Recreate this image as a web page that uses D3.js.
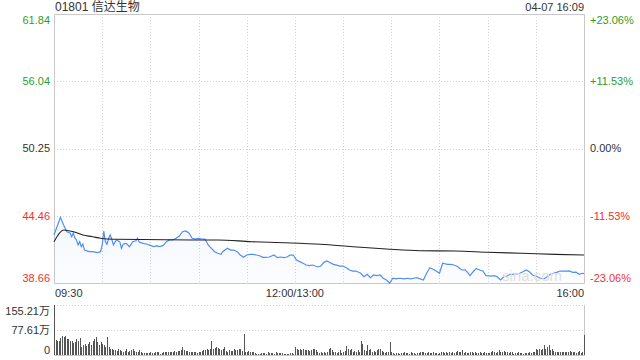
<!DOCTYPE html>
<html>
<head>
<meta charset="utf-8">
<script src="https://cdn.jsdelivr.net/npm/d3@7"></script>
<style>
  body { margin: 0; background: #fff; }
  svg { display: block; font-family: "Liberation Sans", Arial, "Noto Sans CJK SC", sans-serif; }
</style>
</head>
<body>
<div id="chart"></div>
<script>
// 标题
const stockName = "01801 信达生物";
const stamp = "04-07 16:09";
const preClose = 50.25;

// 左右刻度
const priceTicks = [61.84, 56.04, 50.25, 44.46, 38.66];
const pctTicks = ["+23.06%", "+11.53%", "0.00%", "-11.53%", "-23.06%"];
const timeTicks = [0, 150, 330];
const timeLabels = ["09:30", "12:00/13:00", "16:00"];
const volTicks = [155.21, 77.61, 0];
const volTickLabels = ["155.21万", "77.61万", "0"];

// 分时价格 (分钟序号, 0 = 09:30, 150 = 12:00/13:00, 330 = 16:00)
const priceMin = [0,4,6,8,10,11,12,13,14,15,16,17,18,19,20,22,24,27,29,30,31,32,33,34,35,36,37,38,39,41,42,43,45,47,49,51,52,53,55,58,60,62,64,66,68,70,72,74,76,78,80,82,84,86,88,90,92,94,95,96,98,100,102,104,105,108,110,112,114,116,118,120,122,124,126,128,130,132,134,137,139,141,143,145,147,149,151,153,155,157,159,161,164,166,168,170,172,174,176,178,180,182,184,186,188,191,193,195,197,199,201,203,205,207,209,211,213,215,218,220,222,224,226,228,230,232,234,236,238,240,242,245,247,249,251,254,256,258,259,261,263,265,267,269,272,274,276,278,280,282,284,286,288,290,292,294,296,298,301,303,305,307,309,311,313,315,317,319,321,323,325,327,329,330];
const price = [42.80,44.32,43.66,43.08,42.97,42.65,42.97,42.54,42.37,41.94,42.22,41.79,42.00,41.50,41.45,41.36,41.36,41.27,41.36,41.94,43.14,42.22,42.00,42.50,42.80,42.40,41.94,42.20,42.37,42.20,41.65,42.00,42.08,41.79,42.22,42.30,42.51,42.20,42.10,42.00,41.90,41.79,41.85,41.79,41.90,42.22,42.37,42.37,42.51,42.70,43.08,43.14,42.97,42.51,42.45,42.51,42.45,42.45,42.22,41.94,41.65,41.36,41.22,41.13,41.36,41.65,41.50,41.50,41.36,41.07,40.87,41.07,41.13,41.13,41.07,41.01,40.87,40.87,40.90,41.07,40.84,40.90,40.84,40.90,41.07,41.07,40.64,40.50,40.36,40.21,40.15,40.21,40.06,40.10,40.44,40.56,40.40,40.27,40.20,40.12,40.12,39.98,39.78,39.69,39.69,39.50,39.20,39.41,39.12,39.35,39.30,39.35,39.07,38.92,38.66,39.07,39.01,39.07,39.01,39.07,39.01,39.07,39.12,39.01,38.92,39.50,39.98,39.85,39.69,39.50,40.36,40.27,40.27,40.21,40.10,39.78,39.80,39.50,39.29,39.63,39.92,39.78,39.70,39.29,39.25,39.29,39.20,38.92,39.20,39.25,39.41,39.41,39.45,39.50,39.63,39.78,39.63,39.35,39.20,39.07,39.01,39.20,39.41,39.50,39.58,39.69,39.69,39.69,39.70,39.58,39.60,39.41,39.50,39.48];

// 均价
const avgMin = [0,6,12,18,24,29,33,39,85,102,123,144,166,186,207,228,250,270,291,312,330];
const avgPrice = [42.22,43.23,43.08,42.80,42.65,42.51,42.45,42.43,42.37,42.37,42.22,42.13,42.00,41.79,41.59,41.44,41.42,41.31,41.22,41.13,41.07];

// 成交量 (万), 每分钟一根
const volume = [
  155.21,48,45,42,52,60,55,58,50,50,45,42,38,40,50,45,52,25,30,35,28,
  34,40,30,45,50,55,40,30,40,35,30,25,55,25,20,18,15,15,12,20,
  15,12,10,12,18,10,12,15,20,12,8,10,15,8,6,6,5,7,6,8,
  5,6,8,9,10,3,7,10,8,9,10,8,9,10,12,10,11,12,15,25,
  15,12,11,10,8,10,9,8,6,8,10,12,14,15,20,15,20,45,20,22,
  25,22,20,15,18,25,12,10,15,13,12,18,16,15,20,18,12,65,10,8,
  12,10,9,8,5,3,4,3,5,6,5,4,8,6,5,5,4,8,6,5,
  5,5,4,4,3,4,5,6,4,25,18,15,18,15,20,17,15,15,12,14,18,20,15,10,
  5,8,6,10,5,8,18,22,15,10,
  8,5,10,15,6,8,12,28,20,15,
  18,10,12,8,15,9,45,35,15,12,
  30,15,18,10,12,8,15,18,20,12,8,7,10,9,
  40,
  10,5,4,6,5,4,6,5,8,6,5,4,8,6,5,4,6,5,8,10,8,6,5,8,6,5,8,6,5,4,
  6,8,10,6,8,6,8,6,10,6,8,12,8,10,15,6,8,5,5,10,8,6,8,5,6,8,5,6,
  8,6,6,5,8,12,10,6,8,15,10,8,12,10,8,6,10,8,4,6,5,8,6,5,4,5,6,5,8,6,8,10,
  20,15,18,15,20,30,18,25,30,15,18,
  12,8,10,8,10,8,10,8,10,8,12,10,8,10,6,8,12,7,9,62
];

const W = 640, H = 360;
const left = 54, right = 584;
const pTop = 14, pBottom = 283;
const vTop = 305, vBottom = 355;
const green = "#2a9f2a", red = "#f0302e", txt = "#333";

const svg = d3.select("#chart").append("svg").attr("width", W).attr("height", H);

const x = d3.scaleLinear().domain([0, 330]).range([left, right]);
const y = d3.scaleLinear().domain([38.66, 61.84]).range([pBottom, pTop]);
const yv = d3.scaleLinear().domain([0, 155.21]).range([vBottom, vTop]);

const tickColor = (v) => (v > preClose ? green : v < preClose ? red : txt);

// 渐变填充
const grad = svg.append("defs").append("linearGradient")
  .attr("id", "fillGrad").attr("x1", 0).attr("y1", 0).attr("x2", 0).attr("y2", 1);
grad.append("stop").attr("offset", "0%").attr("stop-color", "#5b8ff0").attr("stop-opacity", 0.07);
grad.append("stop").attr("offset", "100%").attr("stop-color", "#5b8ff0").attr("stop-opacity", 0.02);

// 网格
const grid = svg.append("g").attr("stroke", "#d4d4d4").attr("stroke-dasharray", "1,2")
  .attr("fill", "none").attr("shape-rendering", "crispEdges");
grid.selectAll(".vg").data(d3.range(30, 330, 30)).join("line")
  .attr("x1", (d) => Math.round(x(d)) + 0.5).attr("x2", (d) => Math.round(x(d)) + 0.5)
  .attr("y1", pTop).attr("y2", pBottom);
grid.selectAll(".hg").data(priceTicks.slice(1, 4)).join("line")
  .attr("x1", left).attr("x2", right)
  .attr("y1", (d) => Math.round(y(d)) + 0.5).attr("y2", (d) => Math.round(y(d)) + 0.5);
grid.selectAll(".vhg").data(volTicks.slice(0, 2)).join("line")
  .attr("x1", left).attr("x2", right)
  .attr("y1", (d) => Math.round(yv(d)) + 0.5).attr("y2", (d) => Math.round(yv(d)) + 0.5);

// 边框
const frame = svg.append("g").attr("stroke", "#c8c8c8").attr("fill", "none");
frame.append("path").attr("d", `M${left + 0.5},${pTop + 0.5}H${right + 0.5}V${pBottom + 0.5}H${left + 0.5}Z`);
frame.append("path").attr("d", `M${left + 0.5},${vTop}V${vBottom + 0.5}H${right + 0.5}V${vTop}`);

// 价格面积 + 线
const pts = priceMin.map((m, i) => [m, price[i]]);
svg.append("path").datum(pts)
  .attr("fill", "url(#fillGrad)")
  .attr("d", d3.area().x((d) => x(d[0])).y0(pBottom).y1((d) => y(d[1])));
svg.append("path").datum(pts)
  .attr("fill", "none").attr("stroke", "#4f8ff5").attr("stroke-width", 1.2)
  .attr("d", d3.line().x((d) => x(d[0])).y((d) => y(d[1])));

// 均价线
svg.append("path").datum(avgMin.map((m, i) => [m, avgPrice[i]]))
  .attr("fill", "none").attr("stroke", "#222").attr("stroke-width", 1.1)
  .attr("d", d3.line().curve(d3.curveMonotoneX).x((d) => x(d[0])).y((d) => y(d[1])));

// 水印
svg.append("text").attr("x", 532).attr("y", 281).attr("text-anchor", "middle")
  .attr("font-size", 15).attr("fill", "#e0e0e0").text("sina.com");

// 成交量柱
svg.append("g").attr("fill", "#555").attr("shape-rendering", "crispEdges")
  .selectAll("rect").data(volume).join("rect")
  .attr("x", (d, i) => Math.round(x(i)))
  .attr("width", 1)
  .attr("y", (d) => yv(d))
  .attr("height", (d) => vBottom - yv(d));

// 文字
svg.append("text").attr("x", left + 1).attr("y", 11).attr("font-size", 12).attr("fill", txt).text(stockName);
svg.append("text").attr("x", right).attr("y", 11).attr("text-anchor", "end").attr("font-size", 11).attr("fill", txt).text(stamp);

const labelY = (i, n, pos) => (i === 0 ? pos + 6 : i === n - 1 ? pos - 5 : pos);

svg.selectAll(".pl").data(priceTicks).join("text")
  .attr("x", left - 4).attr("y", (d, i) => labelY(i, priceTicks.length, y(d)))
  .attr("dy", "0.35em").attr("text-anchor", "end").attr("font-size", 11)
  .attr("fill", (d) => tickColor(d)).text((d) => d.toFixed(2));

svg.selectAll(".rl").data(pctTicks).join("text")
  .attr("x", right + 6).attr("y", (d, i) => labelY(i, pctTicks.length, y(priceTicks[i])))
  .attr("dy", "0.35em").attr("font-size", 11)
  .attr("fill", (d, i) => tickColor(priceTicks[i])).text((d) => d);

svg.selectAll(".tl").data(timeLabels).join("text")
  .attr("x", (d, i) => x(timeTicks[i]) + (i === 0 ? 1 : 0))
  .attr("y", 293).attr("dy", "0.35em").attr("font-size", 11).attr("fill", txt)
  .attr("text-anchor", (d, i) => (i === 0 ? "start" : i === 2 ? "end" : "middle"))
  .text((d) => d);

svg.selectAll(".vl").data(volTickLabels).join("text")
  .attr("x", left - 4).attr("y", (d, i) => labelY(i, volTickLabels.length, yv(volTicks[i])))
  .attr("dy", "0.35em").attr("text-anchor", "end").attr("font-size", 11).attr("fill", txt)
  .text((d) => d);
</script>
</body>
</html>
